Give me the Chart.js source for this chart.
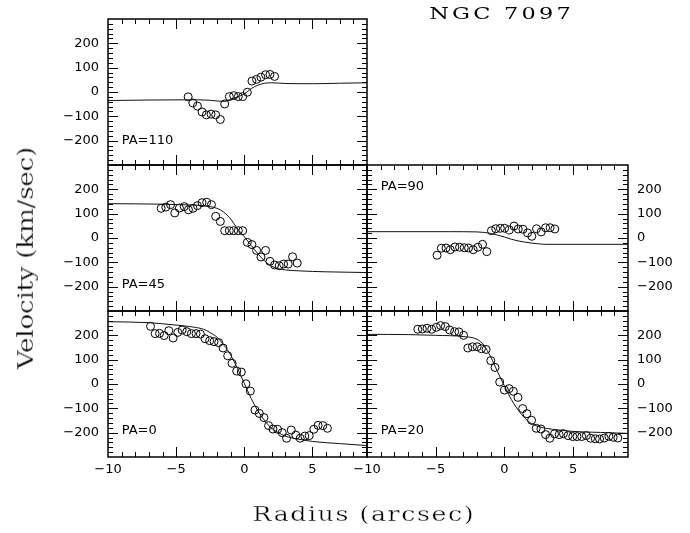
<!DOCTYPE html>
<html>
<head>
<meta charset="utf-8">
<script src="https://cdn.jsdelivr.net/npm/chart.js@4.4.0/dist/chart.umd.min.js"></script>
<style>
  body { margin: 0; background: #fff; }
  #wrap { position: relative; width: 690px; height: 533px; overflow: hidden; }
  canvas { position: absolute; left: 0; top: 0; }
  .lab { position: absolute; font-family: 'DejaVu Serif', serif; white-space: nowrap; color: #000; transform-origin: 50% 50%; }
  #title { left: 500px; top: 6px; font-size: 16px; line-height: 16px; transform: translateX(-50%) scaleX(var(--sx, 1)); }
  #xlab { left: 363px; top: 504px; font-size: 21px; line-height: 21px; transform: translateX(-50%) scaleX(var(--sx, 1)); -webkit-text-stroke: 0.35px #fff; }
  #ylab { left: 26px; top: 258px; font-size: 22px; line-height: 22px; transform: translate(-50%, -50%) rotate(-90deg) scaleX(var(--sx, 1)); -webkit-text-stroke: 0.35px #fff; }
</style>
</head>
<body>
<div id="wrap">
  <canvas id="c110" width="690" height="533"></canvas>
  <canvas id="c45" width="690" height="533"></canvas>
  <canvas id="c90" width="690" height="533"></canvas>
  <canvas id="c0" width="690" height="533"></canvas>
  <canvas id="c20" width="690" height="533"></canvas>
  <div class="lab" id="title">NGC 7097</div>
  <div class="lab" id="ylab">Velocity (km/sec)</div>
  <div class="lab" id="xlab">Radius (arcsec)</div>
</div>
<script>
// axis ranges and tick labels
const xRange = [-10, 9];
const yRange = [-300, 300];
const xTickLabels = [-10, -5, 0, 5];
const yTickLabels = [-200, -100, 0, 100, 200];

// measured velocities (open circles)
const pa110R = [-4.12, -3.78, -3.44, -3.10, -2.78, -2.44, -2.10, -1.76, -1.44, -1.10, -0.78, -0.44, -0.12, 0.22, 0.56, 0.90, 1.22, 1.56, 1.88, 2.22];
const pa110V = [-20, -45, -58, -82, -94, -91, -94, -113, -49, -19, -15, -19, -19, -1, 45, 52, 61, 71, 72, 64];

const pa45R = [-6.10, -5.76, -5.41, -5.10, -4.76, -4.41, -4.10, -3.76, -3.44, -3.10, -2.76, -2.41, -2.10, -1.76, -1.44, -1.10, -0.78, -0.44, -0.12, 0.22, 0.56, 0.90, 1.22, 1.56, 1.88, 2.22, 2.56, 2.88, 3.22, 3.54, 3.88];
const pa45V = [122, 127, 137, 103, 123, 129, 116, 122, 133, 145, 147, 137, 89, 68, 30, 30, 30, 30, 30, -18, -27, -51, -78, -51, -96, -111, -114, -107, -107, -77, -103];

const pa90R = [-4.90, -4.59, -4.25, -3.94, -3.60, -3.26, -2.92, -2.61, -2.27, -1.93, -1.59, -1.28, -0.94, -0.63, -0.29, 0.02, 0.36, 0.70, 1.01, 1.35, 1.69, 2.00, 2.34, 2.68, 3.00, 3.33, 3.67];
const pa90V = [-71, -42, -41, -48, -37, -38, -40, -41, -48, -38, -26, -56, 30, 38, 40, 40, 33, 49, 37, 36, 21, 7, 38, 25, 42, 42, 37];

const pa0R = [-6.88, -6.54, -6.22, -5.88, -5.54, -5.22, -4.88, -4.56, -4.22, -3.88, -3.54, -3.22, -2.88, -2.54, -2.22, -1.88, -1.56, -1.22, -0.90, -0.56, -0.22, 0.12, 0.44, 0.78, 1.10, 1.44, 1.78, 2.10, 2.44, 2.78, 3.10, 3.44, 3.78, 4.10, 4.44, 4.76, 5.10, 5.41, 5.76, 6.10];
const pa0V = [237, 207, 208, 199, 219, 189, 212, 222, 215, 207, 207, 205, 186, 178, 174, 170, 148, 116, 85, 53, 49, 1, -29, -107, -121, -138, -171, -185, -186, -200, -223, -189, -210, -223, -214, -212, -186, -170, -171, -182];

const pa20R = [-6.30, -5.97, -5.63, -5.29, -4.95, -4.64, -4.30, -3.99, -3.62, -3.31, -2.97, -2.66, -2.32, -1.98, -1.67, -1.33, -0.99, -0.68, -0.34, 0.00, 0.34, 0.65, 0.99, 1.33, 1.64, 1.98, 2.32, 2.66, 3.00, 3.31, 3.65, 3.99, 4.30, 4.64, 4.98, 5.29, 5.63, 5.97, 6.28, 6.62, 6.93, 7.27, 7.61, 7.92, 8.26];
const pa20V = [225, 226, 229, 225, 233, 240, 236, 222, 215, 214, 200, 148, 153, 153, 145, 142, 96, 68, 8, -25, -19, -30, -55, -101, -122, -149, -182, -185, -208, -223, -205, -208, -204, -212, -216, -216, -216, -212, -223, -225, -226, -222, -215, -219, -222];

// model curves (solid lines)
const m110R = [-10, -7, -4, -2.5, -1.5, -1, -0.5, 0, 0.5, 1, 1.5, 2, 3, 5, 7, 9];
const m110V = [-35, -33, -32, -34, -39, -30, -20, -8, 14, 28, 36, 38, 35, 34, 36, 38];

const m45R = [-10, -6, -4, -3, -2.5, -2, -1.5, -1, -0.5, 0, 0.5, 1, 1.5, 2, 2.5, 3, 4, 6, 9];
const m45V = [141, 139, 136, 133, 129, 122, 106, 78, 38, 5, -30, -65, -95, -116, -126, -131, -135, -139, -142];

const m90R = [-10, -4, -2, -1.5, -1, -0.5, 0, 0.5, 1, 1.5, 2, 2.5, 3, 5, 9];
const m90V = [26, 26, 25, 23, 19, 12, 4, -5, -12, -17, -21, -24, -26, -26, -26];

const m0R = [-10, -7, -5, -4, -3, -2.5, -2, -1.5, -1, -0.5, 0, 0.5, 1, 1.5, 2, 2.5, 3, 4, 5, 7, 9];
const m0V = [256, 252, 242, 236, 225, 211, 192, 160, 119, 64, 3, -59, -111, -151, -182, -200, -214, -227, -236, -245, -253];

const m20R = [-10, -7, -5, -3, -2, -1.5, -1, -0.5, 0, 0.5, 1, 1.5, 2, 2.5, 3, 4, 5, 7, 9];
const m20V = [204, 203, 200, 195, 184, 160, 112, 51, -8, -63, -107, -141, -164, -175, -182, -189, -195, -199, -203];

// page layout of the five panels (left, top, right, bottom) in pixels
const panels = [
  { id: 'c110', label: 'PA=110', r: pa110R, v: pa110V, mr: m110R, mv: m110V, box: [108, 19, 367, 165], side: 'left', xLabels: false, labelAt: [-9, -212] },
  { id: 'c45', label: 'PA=45', r: pa45R, v: pa45V, mr: m45R, mv: m45V, box: [108, 165, 367, 311], side: 'left', xLabels: false, labelAt: [-9, -204] },
  { id: 'c90', label: 'PA=90', r: pa90R, v: pa90V, mr: m90R, mv: m90V, box: [367, 165, 628, 311], side: 'right', xLabels: false, labelAt: [-9, 196] },
  { id: 'c0', label: 'PA=0', r: pa0R, v: pa0V, mr: m0R, mv: m0V, box: [108, 311, 367, 457], side: 'left', xLabels: true, labelAt: [-9, -204] },
  { id: 'c20', label: 'PA=20', r: pa20R, v: pa20V, mr: m20R, mv: m20V, box: [367, 311, 628, 457], side: 'right', xLabels: true, labelAt: [-9, -204] }
];

const tickFont = '13px "DejaVu Sans", sans-serif';

function fmt (v) {
  return v < 0 ? '\u2212' + (-v) : String(v);
}

/**
 * draws the box, inward ticks on all four sides, the tick numbers and the PA label
 */
const framePlugin = {
  id: 'frame',
  afterDatasetsDraw (chart, args, opts) {
    const { ctx, chartArea: a } = chart;
    const x = chart.scales.x;
    const y = chart.scales.y;
    ctx.save();
    ctx.strokeStyle = '#000';
    ctx.lineWidth = 1;
    ctx.beginPath();
    for (let v = xRange[0] + 1; v < xRange[1]; v += 1) {
      const px = Math.round(x.getPixelForValue(v)) + 0.5;
      const len = v % 5 === 0 ? 10 : 5;
      ctx.moveTo(px, a.bottom); ctx.lineTo(px, a.bottom - len);
      ctx.moveTo(px, a.top); ctx.lineTo(px, a.top + len);
    }
    for (let v = yRange[0] + 20; v < yRange[1]; v += 20) {
      const py = Math.round(y.getPixelForValue(v)) + 0.5;
      const len = v % 100 === 0 ? 10 : 5;
      ctx.moveTo(a.left, py); ctx.lineTo(a.left + len, py);
      ctx.moveTo(a.right, py); ctx.lineTo(a.right - len, py);
    }
    ctx.stroke();
    ctx.lineWidth = 1.5;
    ctx.strokeRect(a.left, a.top, a.right - a.left, a.bottom - a.top);

    ctx.fillStyle = '#000';
    ctx.font = tickFont;
    ctx.textBaseline = 'middle';
    if (opts.side === 'left') {
      ctx.textAlign = 'right';
      yTickLabels.forEach(v => ctx.fillText(fmt(v), a.left - 9, y.getPixelForValue(v)));
    } else {
      ctx.textAlign = 'left';
      yTickLabels.forEach(v => ctx.fillText(fmt(v), a.right + 9, y.getPixelForValue(v)));
    }
    if (opts.xLabels) {
      ctx.textAlign = 'center';
      ctx.textBaseline = 'top';
      xTickLabels.forEach(v => ctx.fillText(fmt(v), x.getPixelForValue(v), a.bottom + 6));
    }
    ctx.textAlign = 'left';
    ctx.textBaseline = 'alphabetic';
    ctx.fillText(opts.label, x.getPixelForValue(opts.labelAt[0]), y.getPixelForValue(opts.labelAt[1]));
    ctx.restore();
  }
};

function pairs (xs, ys) {
  return xs.map((r, i) => ({ x: r, y: ys[i] }));
}

function makePanel (p) {
  const [l, t, r, b] = p.box;
  return new Chart(document.getElementById(p.id), {
    type: 'scatter',
    data: {
      datasets: [
        {
          data: pairs(p.mr, p.mv),
          showLine: true,
          cubicInterpolationMode: 'monotone',
          borderColor: '#111',
          borderWidth: 1,
          pointRadius: 0
        },
        {
          data: pairs(p.r, p.v),
          pointStyle: 'circle',
          pointRadius: 4,
          borderColor: '#000',
          borderWidth: 1,
          backgroundColor: 'rgba(0,0,0,0)'
        }
      ]
    },
    options: {
      responsive: false,
      animation: false,
      layout: { padding: { left: l, top: t, right: 690 - r, bottom: 533 - b } },
      plugins: {
        legend: { display: false },
        tooltip: { enabled: false },
        frame: { side: p.side, xLabels: p.xLabels, label: p.label, labelAt: p.labelAt }
      },
      scales: {
        x: { type: 'linear', min: xRange[0], max: xRange[1], display: false },
        y: { type: 'linear', min: yRange[0], max: yRange[1], display: false }
      }
    },
    plugins: [framePlugin]
  });
}

/**
 * widens a text label (letter spacing plus a fixed horizontal stretch) so it spans the given width
 */
function stretch (id, width, sx) {
  const el = document.getElementById(id);
  const n = el.textContent.length;
  const ls = (width / sx - el.offsetWidth) / n;
  el.style.letterSpacing = ls + 'px';
  el.style.textIndent = ls + 'px';
  el.style.setProperty('--sx', sx);
}

stretch('title', 145, 1.4);
stretch('xlab', 223, 1.2);
stretch('ylab', 222, 1.2);
panels.forEach(makePanel);
</script>
</body>
</html>
